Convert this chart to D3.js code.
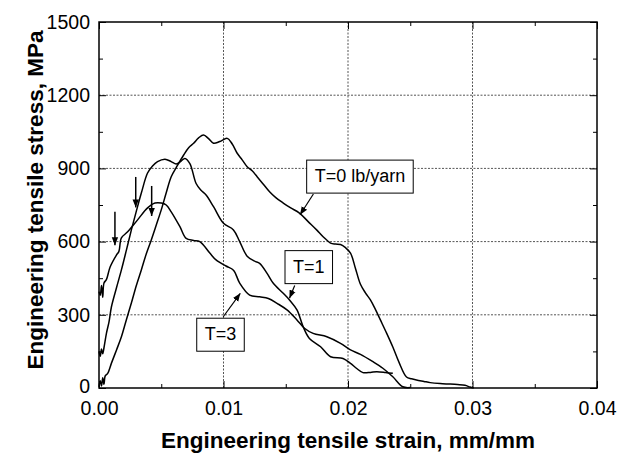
<!DOCTYPE html>
<html lang="en">
<head>
<meta charset="UTF-8">
<title>Tensile stress-strain</title>
<script src="https://d3js.org/d3.v7.min.js"></script>
<style>
  body { margin: 0; background: #fff; }
  text { font-family: "Liberation Sans", Arial, Helvetica, sans-serif; }
</style>
</head>
<body>
<svg id="chart" width="627" height="453"></svg>
<script>
// strain (mm/mm) and stress (MPa)
const strainT0 = [0, 0.0001, 0.0002, 0.0003, 0.0004, 0.0005, 0.0007, 0.001, 0.0014, 0.0018, 0.0022, 0.0026, 0.003, 0.0034, 0.0038, 0.0042, 0.0046, 0.005, 0.0054, 0.0058, 0.0063, 0.0068, 0.0072, 0.0076, 0.008, 0.0084, 0.0088, 0.0092, 0.0097, 0.0103, 0.0107, 0.0111, 0.0115, 0.0119, 0.0123, 0.0127, 0.0132, 0.0137, 0.0142, 0.0148, 0.0154, 0.0161, 0.0168, 0.0175, 0.018, 0.0186, 0.019, 0.0194, 0.0198, 0.0202, 0.0206, 0.021, 0.0214, 0.0218, 0.0222, 0.0226, 0.0231, 0.0236, 0.0241, 0.0247, 0.0251, 0.0255, 0.0261, 0.0266, 0.0274, 0.0282, 0.0288, 0.0294, 0.0298, 0.0301];
const stressT0 = [5, 30, 8, 42, 15, 50, 60, 102, 155, 210, 280, 348, 420, 484, 550, 607, 668, 730, 800, 866, 912, 955, 985, 1003, 1025, 1037, 1022, 1003, 1010, 1023, 1000, 962, 935, 907, 890, 866, 835, 804, 780, 758, 738, 717, 682, 647, 620, 594, 590, 588, 575, 553, 490, 425, 390, 361, 322, 279, 225, 168, 105, 45, 38, 33, 27, 22, 18, 16, 14, 11, 4, 0];

const strainT1 = [0, 0.0001, 0.0002, 0.0003, 0.0004, 0.0006, 0.0008, 0.001, 0.0014, 0.0018, 0.0022, 0.0026, 0.003, 0.0034, 0.0039, 0.0043, 0.0047, 0.0053, 0.0058, 0.0062, 0.0066, 0.0069, 0.0073, 0.0078, 0.0082, 0.0086, 0.0092, 0.01, 0.0108, 0.0113, 0.0119, 0.0125, 0.0129, 0.0135, 0.014, 0.0148, 0.0153, 0.0159, 0.0164, 0.0169, 0.0178, 0.0186, 0.0196, 0.0202, 0.0207, 0.0212, 0.0218, 0.0223, 0.023, 0.0236];
const stressT1 = [150, 130, 160, 140, 165, 225, 270, 333, 410, 484, 565, 648, 725, 799, 881, 910, 928, 938, 928, 918, 930, 941, 920, 838, 810, 791, 743, 675, 648, 600, 540, 520, 511, 470, 429, 388, 361, 320, 251, 203, 169, 128, 121, 101, 80, 63, 64, 67, 64, 60];

const strainT3 = [0, 0.0001, 0.0002, 0.0003, 0.0004, 0.0006, 0.0009, 0.0014, 0.0016, 0.0018, 0.0023, 0.0031, 0.0039, 0.0045, 0.005, 0.0054, 0.0058, 0.0065, 0.007, 0.0076, 0.0081, 0.0089, 0.0094, 0.0102, 0.0108, 0.0113, 0.0121, 0.0129, 0.0136, 0.0143, 0.0151, 0.0159, 0.0165, 0.0172, 0.0183, 0.0194, 0.0202, 0.021, 0.022, 0.0228, 0.0236, 0.0244, 0.025];
const stressT3 = [395, 380, 420, 372, 430, 445, 497, 545, 560, 615, 640, 689, 738, 758, 758, 750, 722, 661, 613, 605, 600, 553, 525, 500, 483, 430, 381, 374, 367, 347, 320, 279, 245, 224, 210, 183, 156, 138, 108, 81, 46, 5, 2];

const xTicks = [0, 0.01, 0.02, 0.03, 0.04];
const xTickLabels = ["0.00", "0.01", "0.02", "0.03", "0.04"];
const xMinor = [0.005, 0.015, 0.025, 0.035];
const yTicks = [0, 300, 600, 900, 1200, 1500];
const yMinor = [150, 450, 750, 1050, 1350];

// label boxes: text, box corner (strain, stress), arrow from -> to
const labelText = ["T=0 lb/yarn", "T=1", "T=3"];
const labelAt = [[0.01668, 934], [0.01494, 563], [0.00785, 286]];
const arrowFrom = [[0.01722, 795], [0.01572, 420], [0.00998, 292]];
const arrowTo = [[0.01615, 710], [0.01530, 368], [0.01135, 388]];

// vertical arrows near the start of the curves
const vArrowX = [0.00128, 0.00295, 0.00423];
const vArrowTop = [722, 865, 828];
const vArrowTip = [585, 740, 705];

const width = 627, height = 453;
const margin = { top: 22, right: 30, bottom: 65, left: 99 };
const iw = width - margin.left - margin.right;
const ih = height - margin.top - margin.bottom;

const svg = d3.select("#chart");
const g = svg.append("g").attr("transform", `translate(${margin.left},${margin.top})`);

const x = d3.scaleLinear().domain([0, 0.04]).range([0, iw]);
const y = d3.scaleLinear().domain([0, 1500]).range([ih, 0]);

// grid
g.append("g").selectAll("line")
  .data(xTicks.slice(1, -1))
  .join("line")
  .attr("x1", d => x(d)).attr("x2", d => x(d))
  .attr("y1", 0).attr("y2", ih)
  .attr("stroke", "#555").attr("stroke-dasharray", "2,1.5");
g.append("g").selectAll("line")
  .data(yTicks.slice(1, -1))
  .join("line")
  .attr("y1", d => y(d)).attr("y2", d => y(d))
  .attr("x1", 0).attr("x2", iw)
  .attr("stroke", "#555").attr("stroke-dasharray", "2,1.5");

// axes with inward ticks
function styleAxis(sel) {
  sel.select(".domain").remove();
  sel.selectAll(".tick line").attr("stroke", "#000").attr("stroke-width", 1);
  sel.selectAll("text").attr("font-size", 19.5).attr("fill", "#000");
}

g.append("g").attr("transform", `translate(0,${ih})`)
  .call(d3.axisBottom(x).tickValues(xTicks).tickSize(-7).tickPadding(13.5)
    .tickFormat((d, i) => xTickLabels[i]))
  .call(styleAxis);
g.append("g").attr("transform", `translate(0,${ih})`)
  .call(d3.axisBottom(x).tickValues(xMinor).tickSize(-4).tickFormat(""))
  .call(styleAxis);
g.append("g")
  .call(d3.axisTop(x).tickValues(xTicks).tickSize(-7).tickFormat(""))
  .call(styleAxis);
g.append("g")
  .call(d3.axisTop(x).tickValues(xMinor).tickSize(-4).tickFormat(""))
  .call(styleAxis);

const yAxis = g.append("g")
  .call(d3.axisLeft(y).tickValues(yTicks).tickSize(-7).tickPadding(9).tickFormat(d3.format("d")))
  .call(styleAxis);
// keep the "0" clear of the "0.00" below it
yAxis.selectAll(".tick text").filter(d => d === 0).attr("y", -1.5);
g.append("g")
  .call(d3.axisLeft(y).tickValues(yMinor).tickSize(-4).tickFormat(""))
  .call(styleAxis);
g.append("g").attr("transform", `translate(${iw},0)`)
  .call(d3.axisRight(y).tickValues(yTicks).tickSize(-7).tickFormat(""))
  .call(styleAxis);
g.append("g").attr("transform", `translate(${iw},0)`)
  .call(d3.axisRight(y).tickValues(yMinor).tickSize(-4).tickFormat(""))
  .call(styleAxis);

// curves
const line = d3.line()
  .x(d => x(d[0]))
  .y(d => y(d[1]))
  .curve(d3.curveCatmullRom.alpha(0.5));

[[strainT0, stressT0], [strainT1, stressT1], [strainT3, stressT3]].forEach(([sx, sy]) => {
  g.append("path")
    .datum(sx.map((v, i) => [v, sy[i]]))
    .attr("d", line)
    .attr("fill", "none")
    .attr("stroke", "#000")
    .attr("stroke-width", 1.5);
});

// frame
g.append("rect")
  .attr("width", iw).attr("height", ih)
  .attr("fill", "none").attr("stroke", "#000").attr("stroke-width", 1.5);

// arrowhead marker
svg.append("defs").append("marker")
  .attr("id", "head")
  .attr("viewBox", "0 0 10 10")
  .attr("refX", 10).attr("refY", 5)
  .attr("markerWidth", 8).attr("markerHeight", 8)
  .attr("markerUnits", "userSpaceOnUse")
  .attr("orient", "auto")
  .append("path").attr("d", "M0,1 L10,5 L0,9 Z").attr("fill", "#000");

// vertical arrows
g.append("g").selectAll("line")
  .data(vArrowX)
  .join("line")
  .attr("x1", d => x(d)).attr("x2", d => x(d))
  .attr("y1", (d, i) => y(vArrowTop[i]))
  .attr("y2", (d, i) => y(vArrowTip[i]))
  .attr("stroke", "#000").attr("stroke-width", 1.5)
  .attr("marker-end", "url(#head)");

// label arrows
g.append("g").selectAll("line")
  .data(arrowFrom)
  .join("line")
  .attr("x1", d => x(d[0])).attr("y1", d => y(d[1]))
  .attr("x2", (d, i) => x(arrowTo[i][0])).attr("y2", (d, i) => y(arrowTo[i][1]))
  .attr("stroke", "#000").attr("stroke-width", 1.2)
  .attr("marker-end", "url(#head)");

// label boxes
labelText.forEach((t, i) => {
  const lg = g.append("g")
    .attr("transform", `translate(${x(labelAt[i][0])},${y(labelAt[i][1])})`);
  const txt = lg.append("text")
    .attr("x", 8).attr("y", 22)
    .attr("font-size", 18)
    .attr("fill", "#000")
    .text(t);
  const w = txt.node().getComputedTextLength();
  lg.insert("rect", "text")
    .attr("width", w + 16).attr("height", 33)
    .attr("fill", "#fff").attr("stroke", "#000").attr("stroke-width", 1);
});

// axis titles
svg.append("text")
  .attr("x", 348)
  .attr("y", 448)
  .attr("text-anchor", "middle")
  .attr("font-size", 22.5)
  .attr("font-weight", "bold")
  .text("Engineering tensile strain, mm/mm");

svg.append("text")
  .attr("transform", "translate(43,200) rotate(-90)")
  .attr("text-anchor", "middle")
  .attr("font-size", 22.5)
  .attr("font-weight", "bold")
  .text("Engineering tensile stress, MPa");
</script>
</body>
</html>
